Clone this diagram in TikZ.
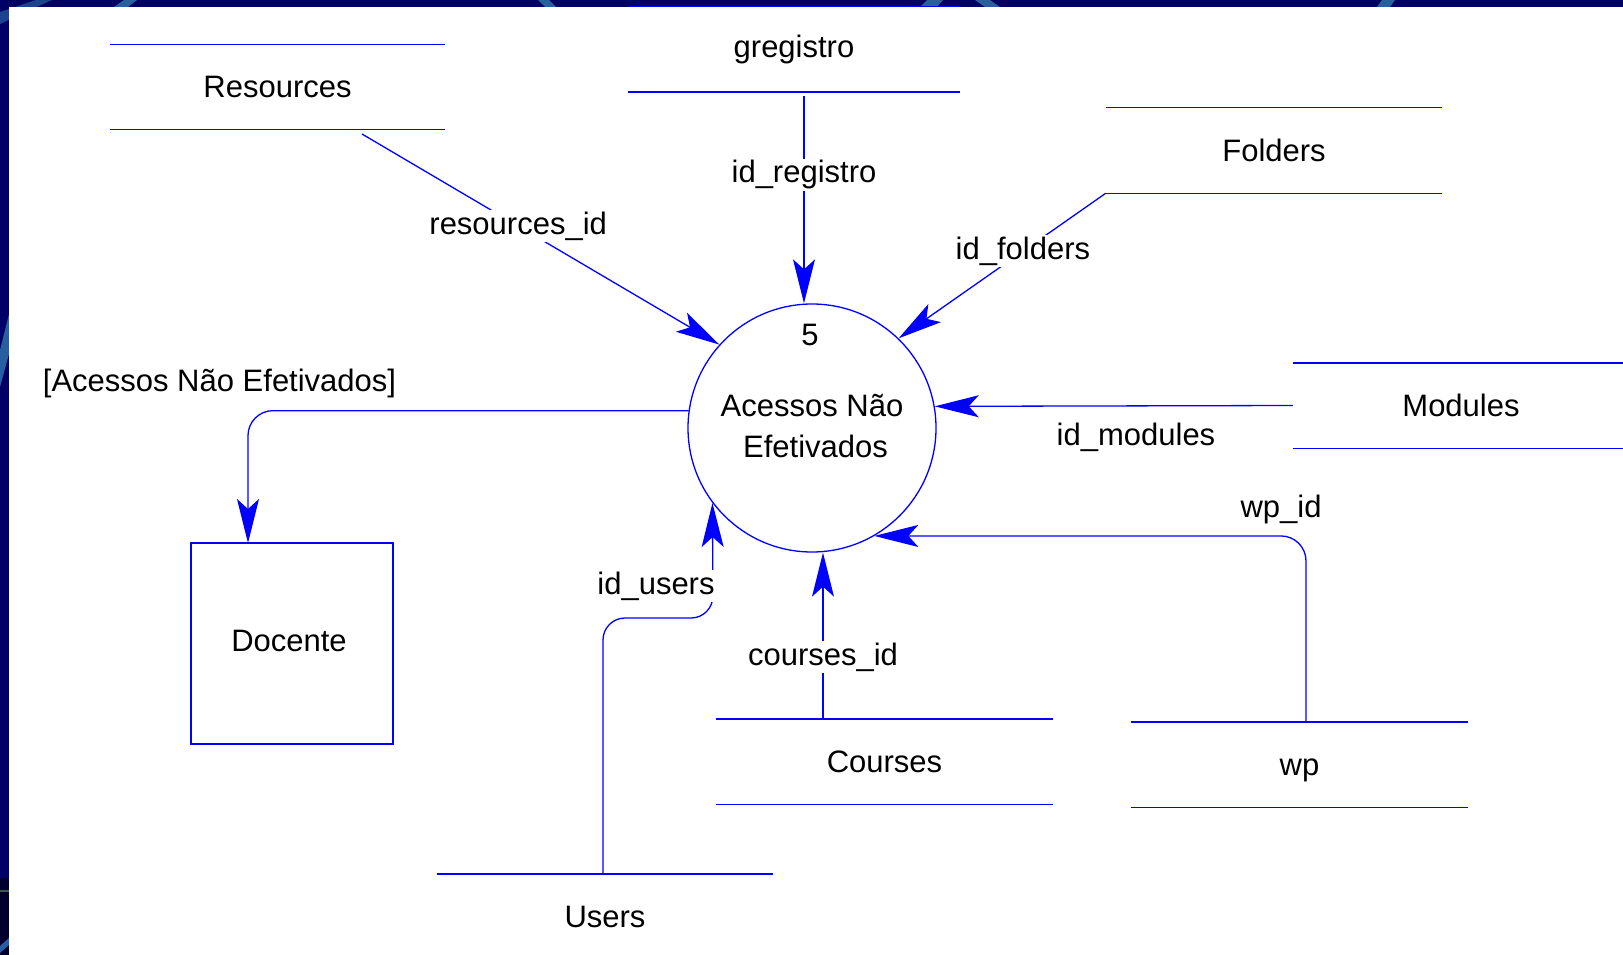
\documentclass[tikz,border=0pt]{standalone}
\usepackage{fontspec}
\setmainfont{Liberation Sans}
\usetikzlibrary{arrows.meta,calc}
\definecolor{navy}{RGB}{0,0,102}
\definecolor{streak}{RGB}{40,95,160}
\definecolor{dfdblue}{RGB}{0,0,255}
\begin{document}
\begin{tikzpicture}[x=1pt,y=-1pt,
  txt/.style={font=\fontsize{31}{41}\selectfont, text=black, inner sep=0pt},
  store/.style={txt, minimum height=85pt, text height=22pt, text depth=0pt},
  sline/.style={draw=dfdblue, line width=1.4pt},
  flow/.style={draw=dfdblue, line width=1.3pt, -{Stealth[length=44pt,width=22pt,inset=10pt]}},
  flowlabel/.style={txt, fill=white, inner sep=1pt, text height=23pt, text depth=7pt},
  plainlabel/.style={txt, text height=22pt, text depth=0pt},
]
\useasboundingbox (0,0) rectangle (1623,955);
% frame
\fill[navy] (0,0) rectangle (1623,955);
\fill[streak!70!navy] (0,12) -- (36,0) -- (52,0) -- (0,24) -- cycle;
\fill[streak] (114,7) -- (124,0) -- (137,0) -- (128,7) -- cycle;
\fill[streak] (538,0) -- (549,0) -- (556,7) -- (545,7) -- cycle;
\fill[streak] (927,0) -- (943,0) -- (937,7) -- (920,7) -- cycle;
\fill[streak] (975,0) -- (990,0) -- (1000,7) -- (985,7) -- cycle;
\fill[streak] (1382,0) -- (1395,0) -- (1390,7) -- (1377,7) -- cycle;
\fill[streak] (0,350) -- (9,314) -- (9,354) -- (0,387) -- cycle;
\fill[black!55!navy] (0,878) rectangle (9,955);
\fill[fill={rgb,255:red,60;green,90;blue,80}] (0,890) rectangle (9,892);
\fill[streak] (0,946) -- (9,938) -- (9,945) -- (0,953) -- cycle;
\fill[white] (9,7) rectangle (1623,955);

% data stores
\node[store, minimum width=335pt] (resources) at (277.5,87) {Resources};
\node[store, minimum width=332pt, text depth=6pt] (gregistro) at (794,49.5) {gregistro};
\node[store, minimum width=336pt] (folders) at (1274,150.5) {Folders};
\node[store, minimum width=336pt] (modules) at (1461,405.5) {Modules};
\node[store, minimum width=337pt] (courses) at (884.5,761.5) {Courses};
\node[store, minimum width=337pt] (wp) at (1299.5,764.5) {wp};
\node[store, minimum width=336pt] (users) at (605,916.5) {Users};
\foreach \s in {resources,gregistro,folders,modules,courses,wp,users}{
  \draw[sline] (\s.north west) -- (\s.north east) (\s.south west) -- (\s.south east);
}

% external entity
\node[txt, draw=dfdblue, line width=1.3pt, minimum width=202pt, minimum height=201pt,
      text height=22pt, text depth=6pt] (docente) at (292,643.5) {Docente\hspace*{6pt}};

% process
\node[txt, circle, draw=dfdblue, line width=1.3pt, minimum size=248pt, align=center] (circ) at (812,428) {Acessos Não\\\hspace*{7pt}Efetivados\\[-37pt]\mbox{}};
\node[plainlabel] (pnum) at (810,334) {5};

% connection points
\coordinate (res-out) at (362,134);
\coordinate (greg-out) at (804,96);
\coordinate (crs-out) at (823,719);
\coordinate (wp-out) at (1306,722);
\coordinate (usr-out) at (603,874);
\coordinate (usr-bend) at (713,618);
\coordinate (doc-in) at (248,543);

% flows
\draw[flow] (res-out) -- node[flowlabel,pos=0.437]{resources\_id} (circ.138);
\draw[flow] (greg-out) -- node[flowlabel,pos=0.38]{id\_registro} (greg-out |- circ.north);
\draw[flow] (folders.south west) -- node[flowlabel,pos=0.4]{id\_folders} (circ.46.6);
\draw[flow] (modules.west) -- (circ.10.5);
\node[plainlabel] (lmod) at (1136,434) {id\_modules};
\draw[flow, rounded corners=25pt] (wp-out) |- (circ.-60.6);
\node[plainlabel] (lwp) at (1281,506) {wp\_id};
\draw[flow] (crs-out) -- node[flowlabel,pos=0.37]{courses\_id} (crs-out |- circ.south);
\draw[flow, rounded corners=22pt] (usr-out) |- (usr-bend) -- (circ.217);
\node[flowlabel] (lusr) at (656,586) {id\_users};
\draw[flow, rounded corners=25pt] (circ.172.1) -| (doc-in);
\node[plainlabel] (ldoc) at (219.5,380) {[Acessos Não Efetivados]};
\end{tikzpicture}
\end{document}
